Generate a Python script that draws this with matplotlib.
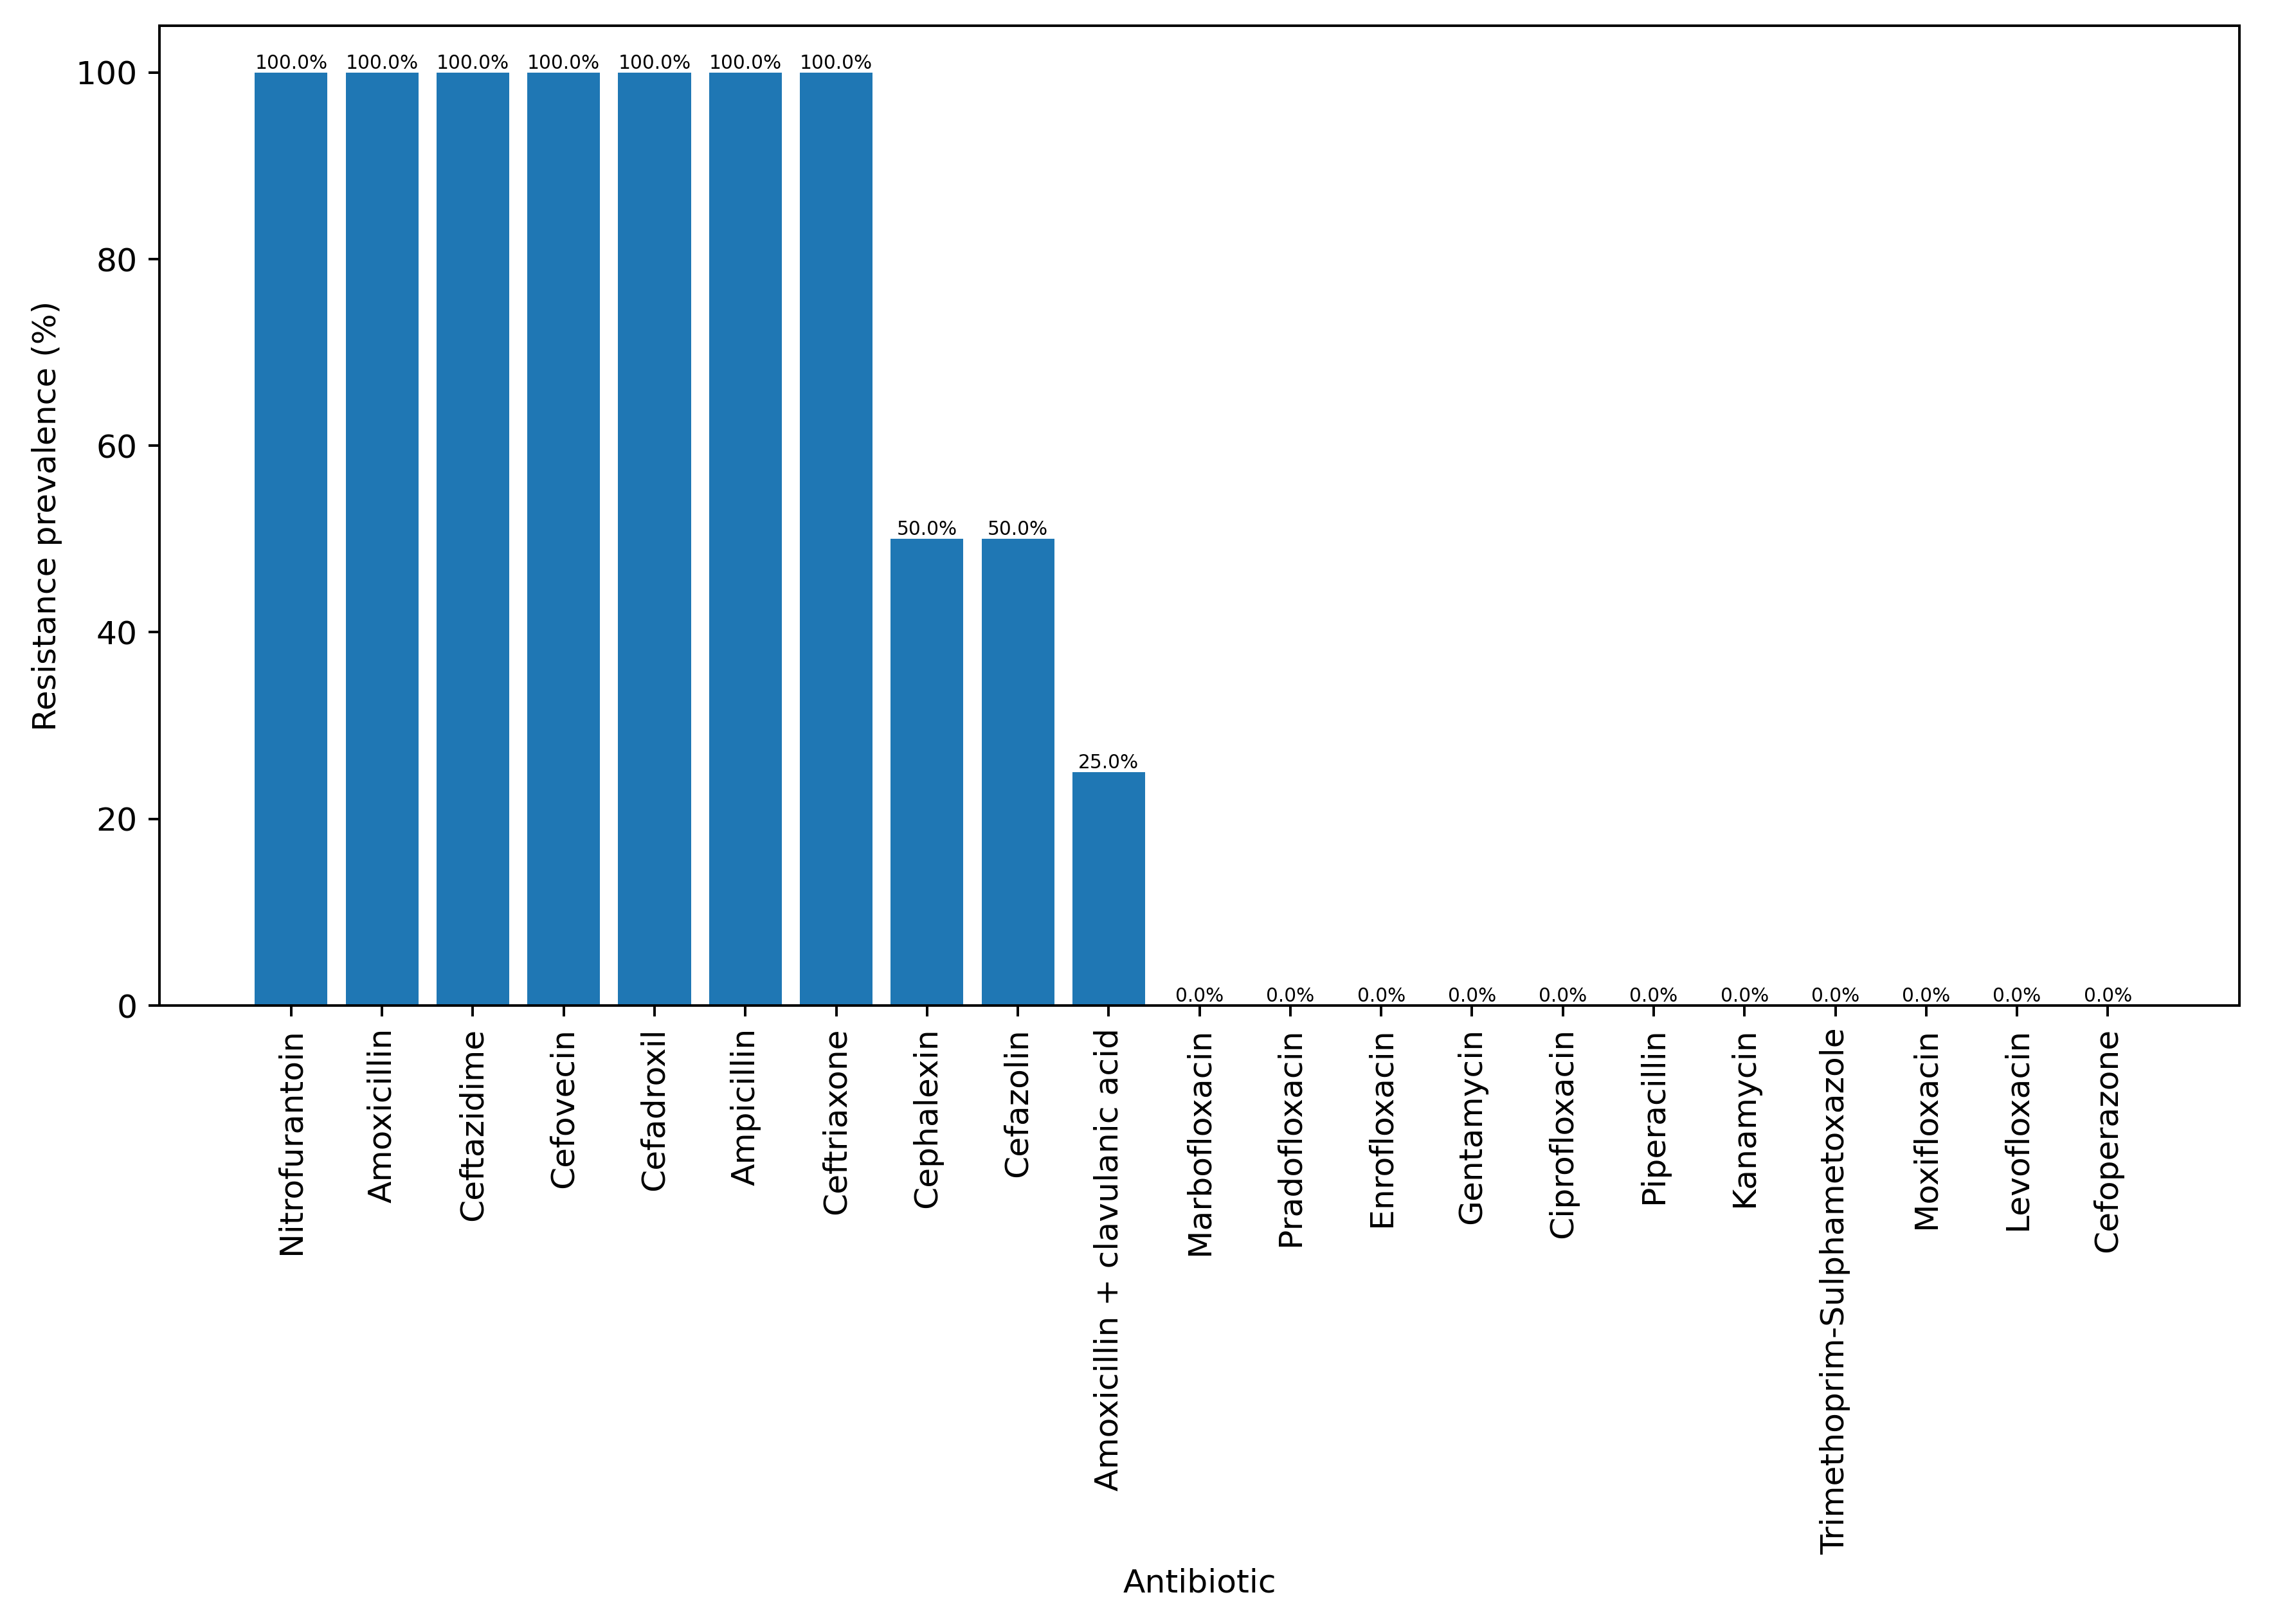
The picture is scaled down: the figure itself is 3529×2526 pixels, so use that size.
import matplotlib
matplotlib.use("Agg")
import matplotlib.pyplot as plt
import numpy as np

antibiotics = [
    "Nitrofurantoin",
    "Amoxicillin",
    "Ceftazidime",
    "Cefovecin",
    "Cefadroxil",
    "Ampicillin",
    "Ceftriaxone",
    "Cephalexin",
    "Cefazolin",
    "Amoxicillin + clavulanic acid",
    "Marbofloxacin",
    "Pradofloxacin",
    "Enrofloxacin",
    "Gentamycin",
    "Ciprofloxacin",
    "Piperacillin",
    "Kanamycin",
    "Trimethoprim-Sulphametoxazole",
    "Moxifloxacin",
    "Levofloxacin",
    "Cefoperazone",
]
resistance = [100, 100, 100, 100, 100, 100, 100, 50, 50, 25,
              0, 0, 0, 0, 0, 0, 0, 0, 0, 0, 0]

plt.rcParams["font.size"] = 10.2

fig = plt.figure(figsize=(9.913, 7.096), dpi=356)
ax = fig.add_axes([0.0703, 0.3808, 0.9167, 0.6033])

x = np.arange(len(antibiotics))
bars = ax.bar(x, resistance, width=0.8, color="#1f77b4")
ax.bar_label(bars, labels=[f"{v:.1f}%" for v in resistance], fontsize=6)

ax.set_xticks(x)
ax.set_xticklabels(antibiotics, rotation=90)
ax.set_xlim(-1.45, len(antibiotics) + 0.45)
ax.set_ylim(0, 105)
ax.set_xlabel("Antibiotic")
ax.set_ylabel("Resistance prevalence (%)")

fig.savefig("out.png", dpi=356)
plt.close(fig)
